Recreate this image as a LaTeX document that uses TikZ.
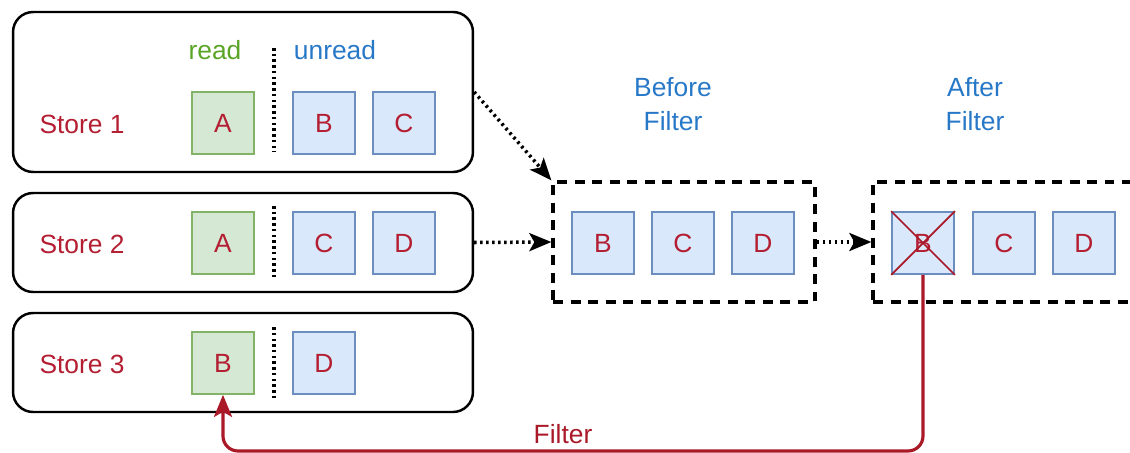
\documentclass[tikz,border=0pt]{standalone}
\usepackage{fontspec}
\setmainfont{Liberation Sans}
\usetikzlibrary{arrows.meta}

\definecolor{readfill}{HTML}{D5E8D4}
\definecolor{readline}{HTML}{82B366}
\definecolor{unreadfill}{HTML}{DAE8FC}
\definecolor{unreadline}{HTML}{6C8EBF}
\definecolor{storered}{RGB}{180,30,50}
\definecolor{labelblue}{RGB}{40,120,200}
\definecolor{labelgreen}{RGB}{90,165,40}
\definecolor{filterred}{RGB}{170,25,40}

\tikzset{
  storebox/.style={draw, rounded corners=0.4cm, line width=1.4pt, minimum width=9.2cm},
  item/.style={draw, line width=1pt, minimum size=1.24cm, inner sep=0pt, text=storered, font=\fontsize{15}{18}\selectfont},
  readitem/.style={item, fill=readfill, draw=readline},
  unreaditem/.style={item, fill=unreadfill, draw=unreadline},
  queuebox/.style={draw, line width=1.9pt, dash pattern=on 0.2cm off 0.15cm, minimum width=5.24cm, minimum height=2.4cm},
  storelabel/.style={text=storered, font=\fontsize{15}{18}\selectfont},
  headlabel/.style={text=labelblue, align=center, font=\fontsize{15}{19}\selectfont},
  sepline/.style={line width=2pt, dash pattern=on 0.05cm off 0.065cm},
  feedline/.style={line width=2pt, dash pattern=on 0.05cm off 0.07cm, -{Stealth[length=0.44cm, width=0.36cm, inset=0.1cm]}},
}

\begin{document}
\begin{tikzpicture}[x=0.02cm, y=-0.02cm]
\useasboundingbox (0,0) rectangle (1130,453);

% stores
\node [storebox, minimum height=3.2cm] (s1) at (243,92) {};
\node [storebox, minimum height=1.98cm] (s2) at (243,242.5) {};
\node [storebox, minimum height=1.98cm] (s3) at (243,362.5) {};

\node [storelabel] (s1name) at (82,124) {Store 1};
\node [storelabel] (s2name) at (82,244) {Store 2};
\node [storelabel] (s3name) at (82,364) {Store 3};

\node [text=labelgreen, font=\fontsize{15}{18}\selectfont] (readlbl) at (215,50) {read};
\node [text=labelblue, font=\fontsize{15}{18}\selectfont] (unreadlbl) at (335,50) {unread};

\node [readitem] (s1a) at (223,123) {A};
\node [unreaditem] (s1b) at (324,123) {B};
\node [unreaditem] (s1c) at (404,123) {C};

\node [readitem] (s2a) at (223,243) {A};
\node [unreaditem] (s2c) at (324,243) {C};
\node [unreaditem] (s2d) at (404,243) {D};

\node [readitem] (s3b) at (223,363) {B};
\node [unreaditem] (s3d) at (324,363) {D};

\draw [sepline] (274,48) -- (274,152);
\draw [sepline] (274,206) -- (274,280);
\draw [sepline] (274,327) -- (274,400);

% before / after filter
\node [headlabel] (beforelbl) at (673,104) {Before\\Filter};
\node [headlabel] (afterlbl) at (975,104) {After\\Filter};

\node [queuebox] (bf) at (684,242) {};
\node [unreaditem] (bfb) at (603,243) {B};
\node [unreaditem] (bfc) at (683,243) {C};
\node [unreaditem] (bfd) at (763,243) {D};

\node [queuebox] (af) at (1004,242) {};
\node [unreaditem] (afb) at (923,243) {B};
\node [unreaditem] (afc) at (1004,243) {C};
\node [unreaditem] (afd) at (1084,243) {D};
\draw [filterred, line width=1pt] (afb.north west) -- (afb.south east);
\draw [filterred, line width=1pt] (afb.south west) -- (afb.north east);

% arrows
\draw [feedline] (s1.east) -- (bf.north west);
\draw [feedline] (s2.east) -- (bf.west);
\draw [feedline] (bf.east) -- (af.west);

\draw [filterred, line width=1.8pt, rounded corners=0.3cm, -{Stealth[length=0.44cm, width=0.36cm, inset=0.1cm]}]
  (afb.south) -- (afb.south |- 0,451) -- (s3b.south |- 0,451) -- (s3b.south);
\node [text=filterred, font=\fontsize{15}{18}\selectfont] (filterlbl) at (563,434) {Filter};

\end{tikzpicture}
\end{document}
